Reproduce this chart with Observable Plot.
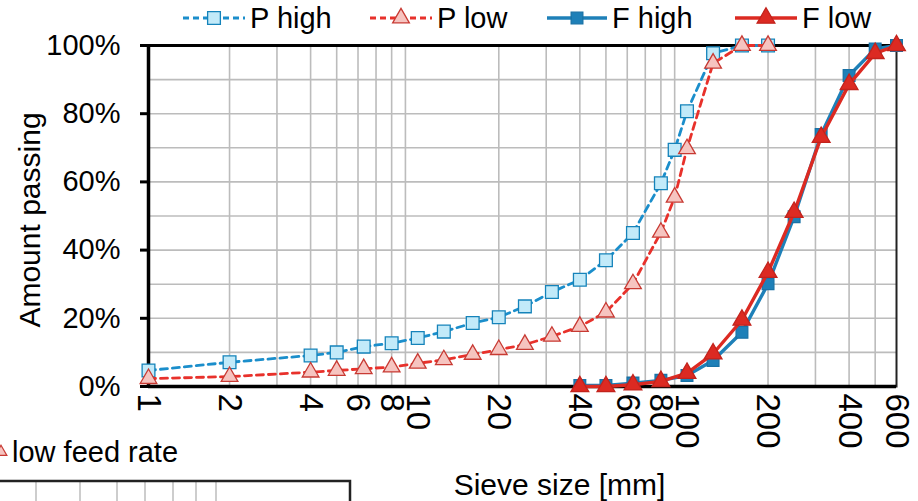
<!DOCTYPE html>
<html><head><meta charset="utf-8">
<script src="https://cdn.jsdelivr.net/npm/d3@7"></script>
<script src="https://cdn.jsdelivr.net/npm/@observablehq/plot@0.6"></script>
<style>
body{margin:0;background:#fff;font-family:"Liberation Sans",Arial,Helvetica,sans-serif;}
#wrap{position:relative;width:918px;height:501px;overflow:hidden;background:#fff}
#legend{display:block}
#chart svg{display:block;overflow:visible}
#overlay{position:absolute;left:0;top:0;pointer-events:none}
</style></head><body>
<div id="wrap">
<svg id="legend" width="918" height="36"></svg>
<div id="chart"></div>
<svg id="overlay" width="918" height="501"></svg>
</div>
<script>
// ---- data ----
const seriesNames = ["P high", "P low", "F high", "F low"];
const sieveP = [1, 2, 4, 5, 6.3, 8, 10, 12.5, 16, 20, 25, 31.5, 40, 50, 63, 80, 90, 100, 125, 160, 200];
const pHigh  = [4.7, 7.1, 9.1, 10, 11.7, 12.7, 14.2, 16.1, 18.6, 20.3, 23.5, 27.7, 31.3, 37, 45, 59.6, 69.4, 80.7, 97.7, 100, 100];
const pLow   = [2.3, 2.9, 4.2, 4.7, 5.2, 5.7, 6.8, 7.8, 9.4, 10.8, 12.3, 14.7, 17.6, 21.8, 30.1, 45.2, 55.5, 69.7, 94.8, 100, 100];
const sieveF = [40, 50, 63, 80, 100, 125, 160, 200, 250, 315, 400, 500, 600];
const fHigh  = [0.3, 0.3, 1, 1.8, 3.2, 7.6, 15.9, 30.1, 49.8, 73.9, 91.2, 99, 100];
const fLow   = [0, 0, 0.5, 1.5, 3.9, 9.6, 19.5, 33.5, 51.1, 73.1, 88.6, 97.7, 100];
const xTickLabels = [1, 2, 4, 6, 8, 10, 20, 40, 60, 80, 100, 200, 400, 600];
const xGridValues = [2, 3, 4, 5, 6, 7, 8, 9, 20, 30, 40, 50, 60, 70, 80, 90, 200, 300, 400, 500];
const yTickLabels = [0, 20, 40, 60, 80, 100];
const yGridValues = [10, 20, 30, 40, 50, 60, 70, 80, 90];
const xLabel = "Sieve size [mm]";
const yLabel = "Amount passing";
const sideNote = "low feed rate";

// ---- styles ----
const st = {
  "P high": {line: "#1b8ecb", fill: "#c2eaf9", mstroke: "#1583ba", symbol: "square", r: 7.2, dash: "7,5", w: 2.8},
  "P low":  {line: "#e8312b", fill: "#f6c4c0", mstroke: "#c83a33", symbol: "triangle", r: 6.2, dash: "7,5", w: 2.8},
  "F high": {line: "#1e80b8", fill: "#1e80b8", mstroke: "#1872a6", symbol: "square", r: 6.6, dash: null, w: 3.4},
  "F low":  {line: "#dc2a22", fill: "#dc2a22", mstroke: "#c2231c", symbol: "triangle", r: 6.6, dash: null, w: 3.4}
};
const mk = (xs, ys, name) => xs.map((x, i) => ({size: x, pct: ys[i], series: name}));
const rows = {
  "P high": mk(sieveP, pHigh, "P high"),
  "P low": mk(sieveP, pLow, "P low"),
  "F high": mk(sieveF, fHigh, "F high"),
  "F low": mk(sieveF, fLow, "F low")
};

const font = '"Liberation Sans", Arial, Helvetica, sans-serif';
const gridStroke = "#bcbcbc";

const seriesMarks = seriesNames.flatMap(name => {
  const s = st[name];
  return [
    Plot.line(rows[name], {x: "size", y: "pct", stroke: s.line, strokeWidth: s.w, strokeDasharray: s.dash, strokeLinejoin: "round"}),
    Plot.dot(rows[name], {x: "size", y: "pct", symbol: () => s.symbol, r: s.r, fill: s.fill, stroke: s.mstroke, strokeWidth: 1.3})
  ];
});

const chart = Plot.plot({
  width: 918,
  height: 465,
  marginLeft: 148,
  marginRight: 22,
  marginTop: 9,
  marginBottom: 115,
  style: {fontFamily: font, background: "white", color: "black", overflow: "visible"},
  x: {type: "log", domain: [1, 600], axis: null},
  y: {domain: [0, 100]},
  marks: [
    Plot.gridX({ticks: xGridValues, stroke: gridStroke, strokeOpacity: 1, strokeWidth: 1.6}),
    Plot.gridY({ticks: yGridValues, stroke: gridStroke, strokeOpacity: 1, strokeWidth: 1.6}),
    Plot.frame({stroke: "#222", strokeWidth: 2}),
    Plot.ruleY([0], {stroke: "black", strokeWidth: 3.5}),
    Plot.ruleY([100], {stroke: "black", strokeWidth: 3}),
    Plot.ruleX([1], {stroke: "black", strokeWidth: 3.5}),
    ...seriesMarks,
    Plot.axisY({ticks: yTickLabels, tickFormat: d => d + "%", tickSize: 8, tickPadding: 20, fontSize: 29, strokeWidth: 3, label: null}),
    Plot.text(xTickLabels, {x: d => d, frameAnchor: "bottom", text: d => String(d), rotate: 90, textAnchor: "start", lineAnchor: "middle", dy: 7, fontSize: 33}),
    Plot.text([xLabel], {frameAnchor: "bottom", text: d => d, dx: 37, dy: 99, fontSize: 30, lineAnchor: "middle"}),
    Plot.text([yLabel], {frameAnchor: "left", text: d => d, textAnchor: "middle", dx: -118, dy: 4, rotate: -90, fontSize: 30, lineAnchor: "middle"})
  ]
});
document.getElementById("chart").appendChild(chart);

// ---- legend ----
const leg = d3.select("#legend");
const legendPos = {"P high": [183, 245, 250], "P low": [370, 432, 437], "F high": [547, 607, 612], "F low": [735, 797, 802]};
const symPath = (name, r) => d3.symbol(st[name].symbol === "square" ? d3.symbolSquare : d3.symbolTriangle, Math.PI * r * r)();
seriesNames.forEach(name => {
  const s = st[name];
  const [x0, x1, tx] = legendPos[name];
  const g = leg.append("g");
  g.append("line").attr("x1", x0).attr("x2", x1).attr("y1", 18).attr("y2", 18)
    .attr("stroke", s.line).attr("stroke-width", s.w).attr("stroke-dasharray", s.dash ? "6,4" : null);
  g.append("path").attr("d", symPath(name, s.r)).attr("transform", `translate(${(x0 + x1) / 2},18)`)
    .attr("fill", s.fill).attr("stroke", s.mstroke).attr("stroke-width", 1.3);
  g.append("text").attr("x", tx).attr("y", 18).attr("dy", "0.35em").attr("font-size", 29)
    .attr("font-family", font).text(name);
});

// ---- cropped neighbour panel fragment (bottom-left of reference) ----
const ov = d3.select("#overlay");
ov.append("path").attr("d", d3.symbol(d3.symbolTriangle, 60)()).attr("transform", "translate(1,452)")
  .attr("fill", "#f6c4c0").attr("stroke", "#c83a33").attr("stroke-width", 1.2);
ov.append("text").attr("x", 12).attr("y", 452).attr("dy", "0.35em").attr("font-size", 29)
  .attr("font-family", font).text(sideNote);
[36, 80, 117, 145, 173, 196, 216].forEach(x => {
  ov.append("line").attr("x1", x).attr("x2", x).attr("y1", 482).attr("y2", 501).attr("stroke", gridStroke).attr("stroke-width", 1.5);
});
ov.append("path").attr("d", "M0,481H350V501").attr("fill", "none").attr("stroke", "#222").attr("stroke-width", 2.5);
</script>
</body></html>
